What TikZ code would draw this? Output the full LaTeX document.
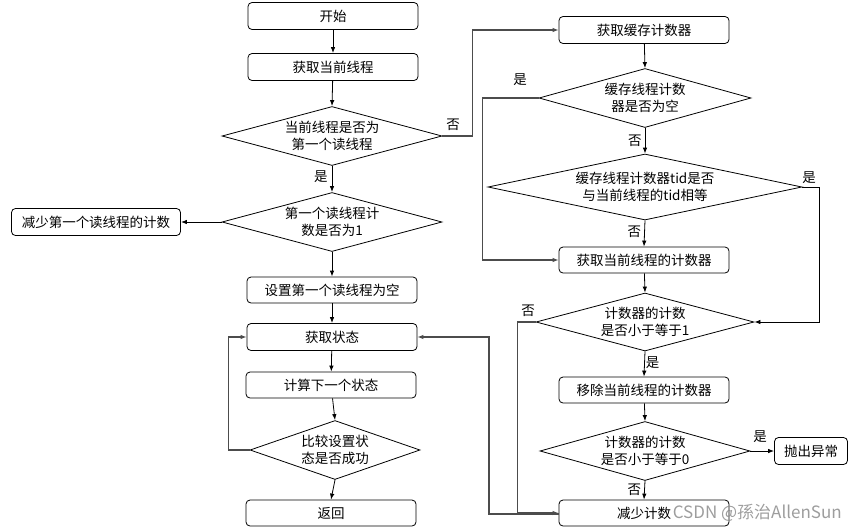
\documentclass[tikz,border=0pt]{standalone}
\usepackage{fontspec}
\setmainfont{Noto Sans CJK SC}
\usetikzlibrary{shapes.geometric,arrows.meta}
\begin{document}
\begin{tikzpicture}[x=1pt,y=-1pt,
  every node/.style={font=\fontsize{13.5}{17}\selectfont},
  proc/.style={draw, line width=0.8pt, rounded corners=4pt, minimum width=170pt, minimum height=27pt, inner sep=0pt},
  dec/.style={draw, line width=0.8pt, diamond, aspect=3.7, inner sep=0pt, align=center},
  lbl/.style={inner sep=0pt},
  arr/.style={draw, line width=0.8pt, -{Latex[length=6pt,width=4.5pt]}},
  garr/.style={draw=black!70, line width=1.1pt, -{Latex[length=6pt,width=4.5pt]}}
]
\useasboundingbox (0,0) rectangle (855,531);
% left column
\node[proc] (start) at (333,16) {开始};
\node[proc] (getthr) at (333,67) {获取当前线程};
\node[dec, minimum width=220pt, minimum height=59pt] (d1) at (332,136) {当前线程是否为\\第一个读线程};
\node[dec, minimum width=220pt, minimum height=59pt] (d2) at (332,222) {第一个读线程计\\数是否为1};
\node[proc, minimum width=169pt] (decfirst) at (96,222) {减少第一个读线程的计数};
\node[proc, minimum height=26pt] (setnull) at (332,290) {设置第一个读线程为空};
\node[proc] (getstate) at (332,337) {获取状态};
\node[proc, minimum height=26pt] (nextstate) at (331,385) {计算下一个状态};
\node[dec, minimum width=170pt, minimum height=59pt, aspect=2.9] (d3) at (335,450) {比较设置状\\态是否成功};
\node[proc, minimum height=26pt] (ret) at (331,513) {返回};
% right column
\node[proc] (getcache) at (644,30) {获取缓存计数器};
\node[dec, minimum width=212pt, minimum height=59pt] (d4) at (645,98) {缓存线程计数\\器是否为空};
\node[dec, minimum width=314pt, minimum height=66pt, aspect=4.8] (d5) at (645,187) {缓存线程计数器tid是否\\与当前线程的tid相等};
\node[proc, minimum height=26pt] (getcur) at (644,260) {获取当前线程的计数器};
\node[dec, minimum width=218pt, minimum height=58pt] (d6) at (645,322) {计数器的计数\\是否小于等于1};
\node[proc, minimum height=26pt] (remove) at (644,390) {移除当前线程的计数器};
\node[dec, minimum width=210pt, minimum height=59pt] (d7) at (645,451) {计数器的计数\\是否小于等于0};
\node[proc, minimum width=73pt] (throw) at (811,451) {抛出异常};
\node[proc, minimum height=26pt] (dec) at (644,513) {减少计数};
% connectors left
\draw[arr] (start) -- (getthr);
\draw[arr] (getthr) -- (d1.north);
\draw[arr] (d1.south) -- node[lbl, pos=0.4, left=4pt] {是} (d2.north);
\draw[arr] (d2.west) -- (decfirst.east);
\draw[arr] (d2.south) -- (setnull.north);
\draw[arr] (setnull) -- (getstate);
\draw[arr] (getstate) -- (nextstate);
\draw[arr] (nextstate) -- (d3.north);
\draw[arr] (d3.south) -- (ret.north);
\draw[garr] (d3.west) -- ++(-21,0) |- (getstate.west);
\draw[garr] (d1.east) -- ++(30,0) |- (getcache.west);
\node[lbl] (lno1) at (453,125) {否};
% connectors right
\draw[arr] (getcache) -- (d4.north);
\draw[garr] (d4.west) -- ++(-56,0) |- (getcur.west);
\node[lbl] (lyes4) at (520,80) {是};
\draw[arr] (d4.south) -- node[lbl, pos=0.5, left=3pt] {否} (d5.north);
\draw[arr] (d5.south) -- node[lbl, pos=0.45, left=3pt] {否} (getcur.north);
\draw[arr] (d5.east) -- ++(17,0) |- (d6.east);
\node[lbl] (lyes5) at (809,178) {是};
\draw[arr] (getcur) -- (d6.north);
\draw[garr] (d6.west) -- ++(-18,0) |- (dec.west);
\node[lbl] (lno6) at (528,311) {否};
\draw[arr] (d6.south) -- node[lbl, pos=0.45, right=1pt] {是} (remove.north);
\draw[arr] (remove) -- (d7.north);
\draw[arr] (d7.east) -- (throw.west);
\node[lbl] (lyes7) at (760,437) {是};
\draw[arr] (d7.south) -- node[lbl, pos=0.45, left=3pt] {否} (dec.north);
\draw[garr] (dec.west) ++(0,1) -- (489,514) |- (getstate.east);
% watermark
\node[lbl, text=black!45, opacity=0.85, font=\fontsize{17}{20}\selectfont, anchor=east] (wm) at (842,513) {CSDN @孫治AllenSun};
\end{tikzpicture}
\end{document}
